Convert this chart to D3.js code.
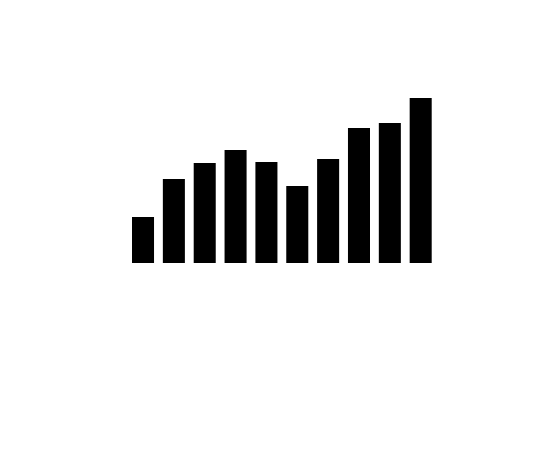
<!DOCTYPE html>
<html lang="en">
<head>
    <meta charset="utf-8">
    <title>Bar chart</title>
    <script type="text/javascript" src="https://cdn.jsdelivr.net/npm/d3@7"></script>
    <style>
        body { margin: 0; background: #fff; }
    </style>
</head>
<body>
<script type="text/javascript">
    var categories = [0, 1, 2, 3, 4, 5, 6, 7, 8, 9];
    var values = [46, 84, 100, 113, 101, 77, 104, 135, 140, 165];

    var w = 559;
    var h = 471;

    var xScale = d3.scaleBand()
        .domain(categories)
        .range([132, 431.7])
        .paddingInner(0.286)
        .paddingOuter(0);
    var yScale = d3.scaleLinear()
        .domain([0, 165])
        .range([263, 98]);

    //Create SVG element
    var svg = d3.select("body")
        .append("svg")
        .attr("width", w)
        .attr("height", h);

    svg.selectAll("rect")
        .data(values)
        .enter()
        .append("rect")
        .attr("x", function(d, i) {
            return xScale(categories[i]);
        })
        .attr("y", function(d) {
            return yScale(d);
        })
        .attr("width", xScale.bandwidth())
        .attr("height", function(d) {
            return yScale(0) - yScale(d);
        })
        .attr("fill", "black");
</script>
</body>
</html>
